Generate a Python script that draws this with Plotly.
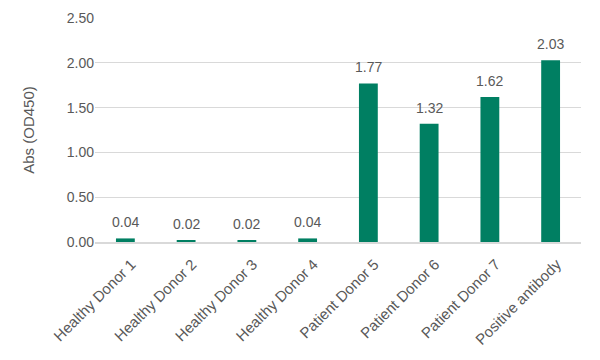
import plotly.graph_objects as go

categories = ["Healthy Donor 1", "Healthy Donor 2", "Healthy Donor 3", "Healthy Donor 4",
              "Patient Donor 5", "Patient Donor 6", "Patient Donor 7", "Positive antibody"]
values = [0.04, 0.02, 0.02, 0.04, 1.77, 1.32, 1.62, 2.03]
value_labels = ["0.04", "0.02", "0.02", "0.04", "1.77", "1.32", "1.62", "2.03"]
y_ticks = [0, 0.5, 1.0, 1.5, 2.0, 2.5]
y_tick_labels = ["0.00", "0.50", "1.00", "1.50", "2.00", "2.50"]

FONT = "Liberation Sans, Arial, sans-serif"

fig = go.Figure(go.Bar(
    x=categories, y=values,
    marker=dict(color="#007F62", line=dict(width=0)),
    width=0.31,
))

for c, v, t in zip(categories, values, value_labels):
    fig.add_annotation(x=c, y=v, text=t, showarrow=False, yanchor="bottom", yshift=6,
                       font=dict(family=FONT, size=14, color="#595959"))

fig.update_layout(
    width=600, height=360,
    margin=dict(l=95, r=19, t=18, b=118),
    paper_bgcolor="white", plot_bgcolor="white",
    font=dict(family=FONT, color="#595959"),
    showlegend=False,
)
fig.update_xaxes(
    tickangle=-45, tickfont=dict(size=15, color="#595959"),
    showline=True, linecolor="#d9d9d9", linewidth=1.5,
    ticks="", showgrid=False, automargin=False,
    ticklabelshift=6, ticklabelstandoff=6,
)
fig.update_yaxes(
    range=[0, 2.5005], tickvals=y_ticks, ticktext=y_tick_labels,
    tickfont=dict(size=14, color="#595959"),
    showgrid=True, gridcolor="#d9d9d9", gridwidth=1,
    zeroline=False, showline=False, ticks="", automargin=False,
    title=dict(text="Abs (OD450)", font=dict(size=15, color="#595959"), standoff=28),
)

fig.write_html("out.html", config={"displayModeBar": False},
               post_script="document.body.style.margin='0';")
